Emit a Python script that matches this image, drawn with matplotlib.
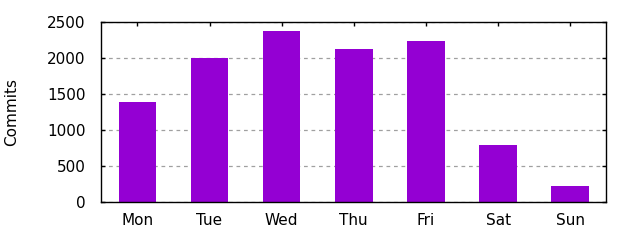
import matplotlib.pyplot as plt

days = ["Mon", "Tue", "Wed", "Thu", "Fri", "Sat", "Sun"]
commits = [1388, 2004, 2379, 2127, 2239, 788, 218]

plt.rcParams['font.family'] = ['DejaVu Sans']
fig = plt.figure(figsize=(6.4, 2.4), dpi=100)
ax = fig.add_axes([0.1583, 0.1604, 0.789, 0.7467])

x = range(len(days))
ax.bar(x, commits, width=0.52, color="#9400d3", zorder=2)

ax.set_xlim(-0.5, 6.5)
ax.set_ylim(0, 2500)
ax.set_xticks(list(x))
ax.set_xticklabels(days)
ax.set_yticks([0, 500, 1000, 1500, 2000, 2500])

# gnuplot style: dashed grey grid, ticks inward on all sides
ax.yaxis.grid(True, color="#a0a0a0", linestyle=(0, (3, 3)), linewidth=0.9, zorder=0)
ax.tick_params(direction="in", length=3, width=1, top=True, right=True,
               labelsize=11, colors="black")
ax.tick_params(axis="y", pad=11.5)
ax.tick_params(axis="x", pad=8.5)
for s in ax.spines.values():
    s.set_linewidth(1)
ax.set_ylabel("Commits", fontsize=11)
ax.yaxis.set_label_coords(-0.162, 0.5)

fig.savefig("out.png", dpi=100)
